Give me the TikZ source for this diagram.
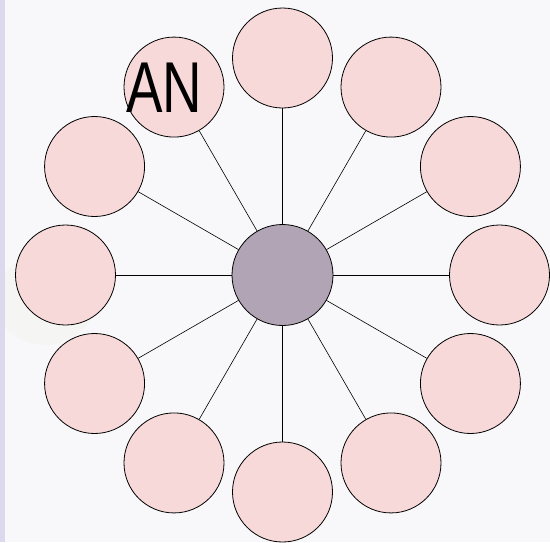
\documentclass[tikz,border=0pt]{standalone}
\usepackage{fontspec}
\setmainfont{Liberation Sans}
\usetikzlibrary{calc}
\begin{document}
\begin{tikzpicture}[x=1pt,y=-1pt,
  petal/.style={circle,draw=black,line width=0.8pt,fill=petalfill,minimum size=100pt,inner sep=0pt},
  hub/.style={circle,draw=black,line width=0.8pt,fill=hubfill,minimum size=101pt,inner sep=0pt},
  spoke/.style={draw=black,line width=0.6pt}]
\definecolor{petalfill}{HTML}{F8D9D9}
\definecolor{hubfill}{HTML}{B1A5B5}
\definecolor{paper}{HTML}{F8F8FB}
\definecolor{stripe}{HTML}{DCD9EE}
\definecolor{leafhaze}{HTML}{F2F4E8}
\useasboundingbox (0,0) rectangle (550,542);
% background
\begin{scope}
\clip (0,0) rectangle (550,542);
\fill[paper] (0,0) rectangle (550,542);
\fill[leafhaze,opacity=0.4] (45,300) ellipse (50 and 45);
\fill[stripe] (0,0) rectangle (5,542);
\end{scope}
% hub
\node[hub] (c) at (282.5,275) {};
% twelve petals on a ring
\foreach \i in {0,...,11}{
  \node[petal] (o\i) at ($(282.5,275)+({90-30*\i}:-217)$) {};
}
\foreach \i in {0,...,11}{
  \draw[spoke] (c) -- (o\i);
}
\node[font=\fontsize{72}{72}\selectfont,xscale=0.76,inner sep=0pt] (t) at (164.5,88) {AN};
\end{tikzpicture}
\end{document}
